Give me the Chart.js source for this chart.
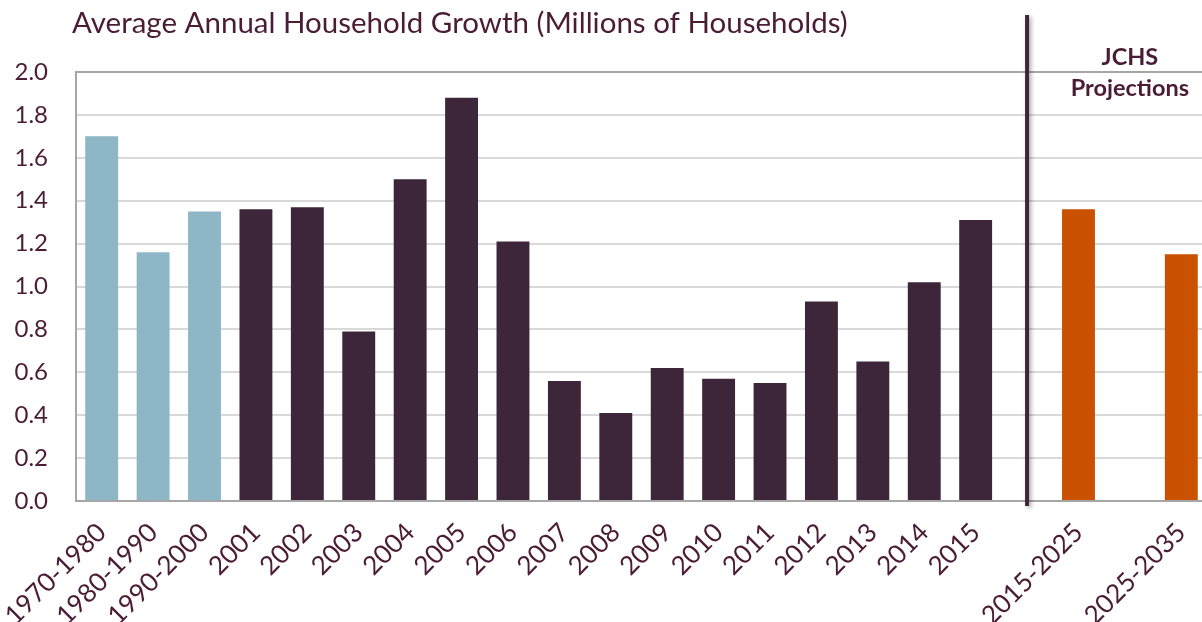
<!DOCTYPE html>
<html>
<head>
<meta charset="utf-8">
<script src="https://cdn.jsdelivr.net/npm/chart.js@4.4.0/dist/chart.umd.min.js"></script>
<style>
  html, body { margin: 0; padding: 0; background: #ffffff; overflow: hidden; }
  #wrap { position: relative; width: 1207px; height: 622px; }
</style>
</head>
<body>
<div id="wrap"><canvas id="chart"></canvas></div>
<script>
// Household growth, millions of households per year
const decadePeriods = ['1970-1980', '1980-1990', '1990-2000'];
const decadeGrowth = [1.70, 1.16, 1.35];

const years = ['2001', '2002', '2003', '2004', '2005', '2006', '2007', '2008',
               '2009', '2010', '2011', '2012', '2013', '2014', '2015'];
const yearGrowth = [1.36, 1.37, 0.79, 1.50, 1.88, 1.21, 0.56, 0.41,
                    0.62, 0.57, 0.55, 0.93, 0.65, 1.02, 1.31];

const projectionPeriods = ['2015-2025', '2025-2035'];
const projectionGrowth = [1.36, 1.15];

const yMin = 0, yMax = 2.0, yStep = 0.2;

const chartTitle = 'Average Annual Household Growth (Millions of Households)';
const projectionNote = ['JCHS', 'Projections'];

const TEXT = '#4a1c36';
const DECADE_COLOR = '#8db6c6';
const YEAR_COLOR = '#3e263a';
const PROJ_COLOR = '#c95100';
const FONT = 'Lato, "Open Sans", sans-serif';

// Category axis: history, a spacer (divider sits here), projection, spacer, projection
const labels = [...decadePeriods, ...years, '', projectionPeriods[0], '', projectionPeriods[1]];
const values = [...decadeGrowth, ...yearGrowth, null, projectionGrowth[0], null, projectionGrowth[1]];
const colors = [
  ...decadePeriods.map(() => DECADE_COLOR),
  ...years.map(() => YEAR_COLOR),
  'transparent', PROJ_COLOR, 'transparent', PROJ_COLOR
];
const dividerIndex = decadePeriods.length + years.length;
const noteIndex = dividerIndex + 2;

const overlay = {
  id: 'overlay',
  afterDraw(chart) {
    const ctx = chart.ctx;
    const x = chart.scales.x;
    const area = chart.chartArea;
    ctx.save();

    // title
    ctx.fillStyle = TEXT;
    ctx.font = '29.5px ' + FONT;
    ctx.textAlign = 'left';
    ctx.textBaseline = 'alphabetic';
    ctx.fillText(chartTitle, 72, 33);

    // divider between history and projections
    const dx = x.getPixelForValue(dividerIndex);
    ctx.save();
    ctx.shadowColor = 'rgba(0,0,0,0.35)';
    ctx.shadowBlur = 4;
    ctx.shadowOffsetX = 2;
    ctx.shadowOffsetY = 2;
    ctx.strokeStyle = '#3e263a';
    ctx.lineWidth = 4;
    ctx.beginPath();
    ctx.moveTo(dx, 15);
    ctx.lineTo(dx, area.bottom + 5);
    ctx.stroke();
    ctx.restore();

    // projections note
    const nx = x.getPixelForValue(noteIndex);
    ctx.fillStyle = TEXT;
    ctx.font = 'bold 23.5px ' + FONT;
    ctx.textAlign = 'center';
    ctx.fillText(projectionNote[0], nx, 65);
    ctx.fillText(projectionNote[1], nx, 96);
    ctx.restore();
  }
};

new Chart(document.getElementById('chart'), {
  type: 'bar',
  data: {
    labels: labels,
    datasets: [{
      data: values,
      backgroundColor: colors,
      borderWidth: 0,
      barPercentage: 0.64,
      categoryPercentage: 1.0
    }]
  },
  options: {
    responsive: true,
    maintainAspectRatio: false,
    animation: false,
    layout: { padding: { top: 72, left: 0, right: 0, bottom: 0 } },
    plugins: {
      legend: { display: false },
      tooltip: { enabled: false },
      title: { display: false }
    },
    scales: {
      x: {
        grid: { display: false },
        border: { color: '#a6a6a6', width: 2 },
        ticks: {
          color: TEXT,
          font: { family: FONT, size: 26 },
          minRotation: 45,
          maxRotation: 45,
          autoSkip: false,
          padding: 8,
          labelOffset: 0
        },
        afterFit(scale) {
          scale.height = 121;
          // rotated labels may hang past the edges; keep the plot edges fixed
          scale.paddingLeft = 0;
          scale.paddingRight = 0;
        }
      },
      y: {
        min: yMin,
        max: yMax,
        grid: {
          drawTicks: false,
          lineWidth: 2,
          color: (c) => (c.tick && c.tick.value === yMax) ? '#a6a6a6' : '#d9d9d9'
        },
        border: { color: '#a6a6a6', width: 2 },
        ticks: {
          stepSize: yStep,
          color: TEXT,
          font: { family: FONT, size: 24 },
          padding: 28,
          callback: (v) => Number(v).toFixed(1)
        },
        afterFit(scale) { scale.width = 76; }
      }
    }
  },
  plugins: [overlay]
});
</script>
</body>
</html>
